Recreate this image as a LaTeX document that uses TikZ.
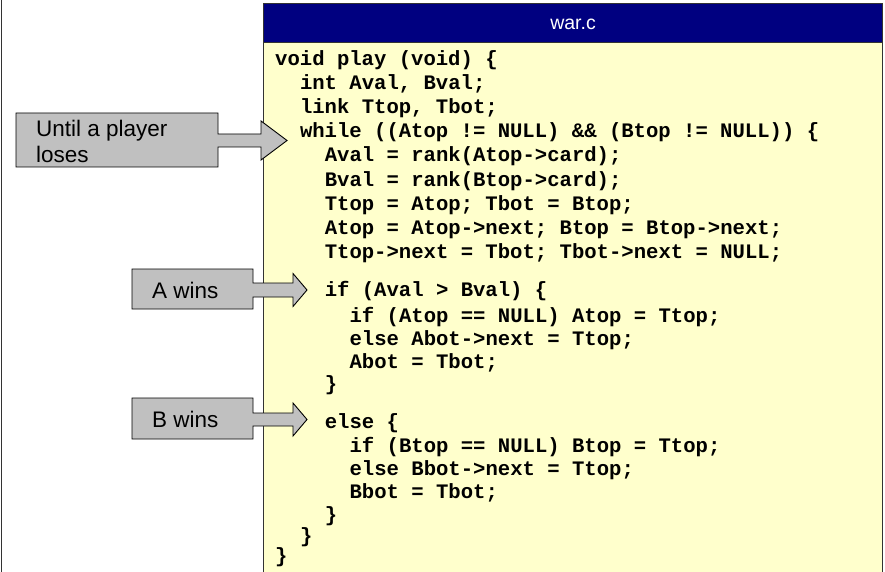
\documentclass[tikz,border=0pt]{standalone}
\usepackage{fontspec}
\setmainfont{Liberation Sans}
\newfontfamily\codefont{Liberation Mono}
\definecolor{titlebg}{HTML}{000080}
\definecolor{codebg}{HTML}{FFFFCC}
\definecolor{calloutbg}{HTML}{C0C0C0}
\definecolor{frame}{HTML}{333333}
\tikzset{
  codeline/.style={anchor=base west, inner sep=0pt, font=\codefont\bfseries\fontsize{20.6}{24}\selectfont},
  calloutshape/.style={fill=calloutbg, draw=black, line width=0.9pt, line join=miter},
  calloutlabel/.style={anchor=west, inner sep=0pt, align=left, font=\fontsize{22.5}{26}\selectfont},
}
\begin{document}
\begin{tikzpicture}[x=1pt,y=-1pt]
\useasboundingbox (0,0) rectangle (885,572);
% outer left rule
\draw[frame, line width=1.2pt] (1.2,0) -- (1.2,572);
% code window
\fill[codebg] (263,4) rectangle (882,575);
\fill[titlebg] (263,4) rectangle (882,43);
\draw[frame, line width=1pt] (263,576) -- (263,4) -- (882,4) -- (882,576);
\draw[frame, line width=1pt] (263,43) -- (882,43);
\node[text=white, font=\fontsize{19.5}{22}\selectfont] (title) at (573,24) {war.c};
% code lines: name / indent (characters) / baseline / text
\def\cw{12.4}
\foreach \n/\ind/\yb/\txt in {
  0/0/66/{void play (void) \{},
  1/2/90/{int Aval, Bval;},
  2/2/114/{link Ttop, Tbot;},
  3/2/138/{while ((Atop != NULL) \&\& (Btop != NULL)) \{},
  4/4/162/{Aval = rank(Atop->card);},
  5/4/186/{Bval = rank(Btop->card);},
  6/4/210/{Ttop = Atop; Tbot = Btop;},
  7/4/234/{Atop = Atop->next; Btop = Btop->next;},
  8/4/258/{Ttop->next = Tbot; Tbot->next = NULL;},
  9/4/296/{if (Aval > Bval) \{},
  10/6/322/{if (Atop == NULL) Atop = Ttop;},
  11/6/345/{else Abot->next = Ttop;},
  12/6/368/{Abot = Tbot;},
  13/4/390/{\}},
  14/4/428/{else \{},
  15/6/452/{if (Btop == NULL) Btop = Ttop;},
  16/6/475/{else Bbot->next = Ttop;},
  17/6/498/{Bbot = Tbot;},
  18/4/521/{\}},
  19/2/542/{\}},
  20/0/562/{\}}}
  \node[codeline] (l\n) at ({275+\cw*\ind},\yb) {\txt};
% callout: Until a player loses
\draw[calloutshape] (16,113) -- (218,113) -- (218,134) -- (261,134) -- (261,121)
  -- (287,140.5) -- (261,160) -- (261,147) -- (218,147) -- (218,167) -- (16,167) -- cycle;
\node[calloutlabel] (until) at (36,141) {Until a player\\loses};
% callout: A wins
\draw[calloutshape] (132,269) -- (253,269) -- (253,283) -- (293,283) -- (293,273.5)
  -- (307,290) -- (293,306.5) -- (293,297) -- (253,297) -- (253,309) -- (132,309) -- cycle;
\node[calloutlabel] (awins) at (152,290) {A wins};
% callout: B wins
\draw[calloutshape] (132,398) -- (253,398) -- (253,413) -- (293,413) -- (293,403)
  -- (307,419.5) -- (293,436) -- (293,426) -- (253,426) -- (253,439) -- (132,439) -- cycle;
\node[calloutlabel] (bwins) at (152,419) {B wins};
\end{tikzpicture}
\end{document}
